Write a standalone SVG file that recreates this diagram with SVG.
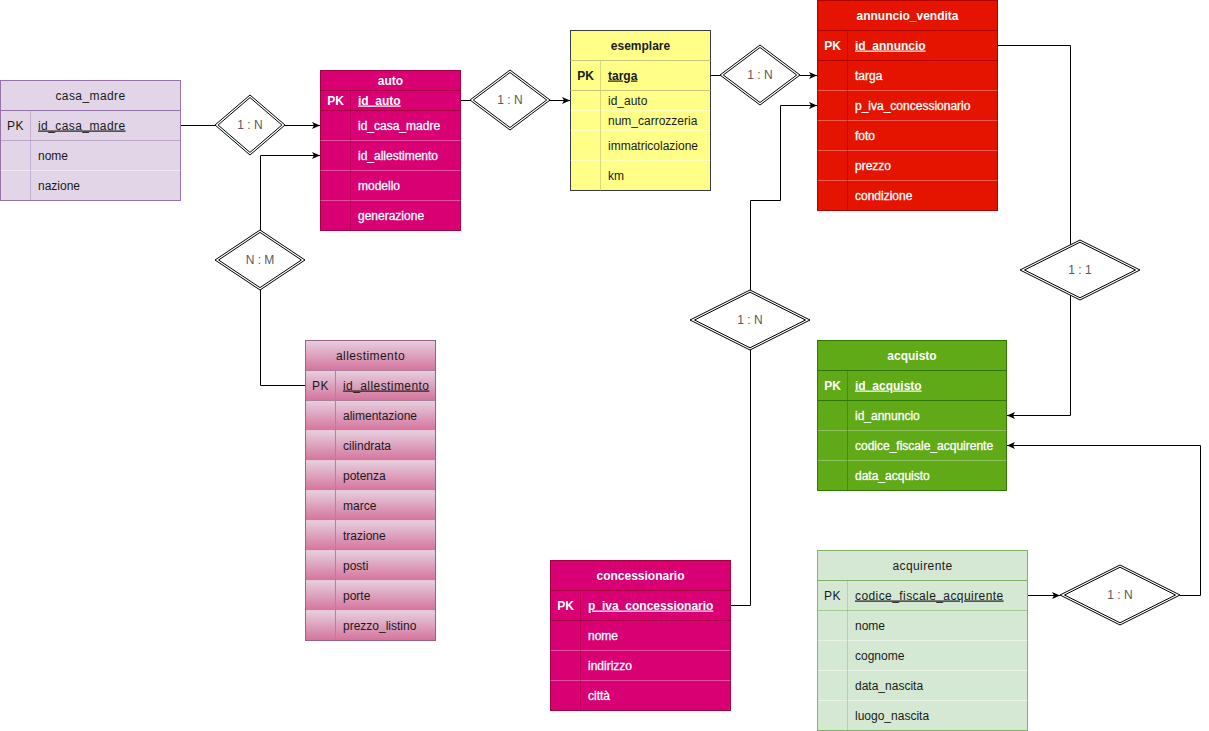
<svg xmlns="http://www.w3.org/2000/svg" width="1209" height="731" viewBox="0 0 1209 731">
<defs>
<style>
.t{font-family:"Liberation Sans",Arial,Helvetica,sans-serif;font-size:12px}
.dk{fill:#1a1a1a}
.wt{fill:#fff;font-weight:bold}
.wn{fill:#fff;stroke:#fff;stroke-width:.3px}
.b{font-weight:bold}
.ls{letter-spacing:.42px}
.u{text-decoration:underline}
.c{text-anchor:middle}
.conn{fill:none;stroke:#000;stroke-width:1}
.dia{fill:#fff;stroke:#000;stroke-width:1}
.dl{font-family:"Liberation Sans",Arial,Helvetica,sans-serif;font-size:12px;fill:#595959;text-anchor:middle}
.sepw{stroke:#fff;stroke-opacity:.45;stroke-width:1}
.sepw2{stroke:#fff;stroke-opacity:.3;stroke-width:1}
</style>
<marker id="arr" viewBox="0 0 8 7" refX="8" refY="3.5" markerWidth="8" markerHeight="7" markerUnits="userSpaceOnUse" orient="auto">
<path d="M0,0 L8,3.5 L0,7 L2,3.5 Z" fill="#000"/>
</marker>
<linearGradient id="gAll" x1="0" y1="0" x2="0" y2="1">
<stop offset="0" stop-color="#e6d0de"/>
<stop offset="1" stop-color="#d5739d"/>
</linearGradient>
</defs>
<rect width="1209" height="731" fill="#fff"/>

<g id="connectors">
<path class="conn" d="M180.5,125.5 H320" marker-end="url(#arr)"/>
<path class="conn" d="M260.5,230 V155.5 H320" marker-end="url(#arr)"/>
<path class="conn" d="M260.5,290 V385.5 H305.5"/>
<path class="conn" d="M460.5,100.5 H570" marker-end="url(#arr)"/>
<path class="conn" d="M710.5,75.5 H817" marker-end="url(#arr)"/>
<path class="conn" d="M730.5,605.5 H750.5 V200.5 H780.5 V105.5 H817" marker-end="url(#arr)"/>
<path class="conn" d="M997.5,45.5 H1070.5 V415.5 H1007" marker-end="url(#arr)"/>
<path class="conn" d="M1027.5,595.5 H1060" marker-end="url(#arr)"/>
<path class="conn" d="M1180,595.5 H1200.5 V445.5 H1007" marker-end="url(#arr)"/>
</g>

<g id="rel_casa_auto">
<polygon class="dia" points="215,125 250,95 285,125 250,155"/>
<polygon class="dia" points="218.1,125 250,97.6 281.9,125 250,152.4"/>
<text class="dl" x="250" y="129">1 : N</text>
</g>
<g id="rel_auto_allestimento">
<polygon class="dia" points="215,260 260,230 305,260 260,290"/>
<polygon class="dia" points="218.6,260 260,232.4 301.4,260 260,287.6"/>
<text class="dl" x="260" y="264">N : M</text>
</g>
<g id="rel_auto_esemplare">
<polygon class="dia" points="470,100 510,70 550,100 510,130"/>
<polygon class="dia" points="473.3,100 510,72.5 546.7,100 510,127.5"/>
<text class="dl" x="510" y="104">1 : N</text>
</g>
<g id="rel_esemplare_annuncio">
<polygon class="dia" points="720,75 760,45 800,75 760,105"/>
<polygon class="dia" points="723.3,75 760,47.5 796.7,75 760,102.5"/>
<text class="dl" x="760" y="79">1 : N</text>
</g>
<g id="rel_concessionario_annuncio">
<polygon class="dia" points="690,320 750,290 810,320 750,350"/>
<polygon class="dia" points="694.5,320 750,292.2 805.5,320 750,347.8"/>
<text class="dl" x="750" y="324">1 : N</text>
</g>
<g id="rel_annuncio_acquisto">
<polygon class="dia" points="1020,270 1080,240 1140,270 1080,300"/>
<polygon class="dia" points="1024.5,270 1080,242.2 1135.5,270 1080,297.8"/>
<text class="dl" x="1080" y="274">1 : 1</text>
</g>
<g id="rel_acquirente_acquisto">
<polygon class="dia" points="1060,595 1120,565 1180,595 1120,625"/>
<polygon class="dia" points="1064.5,595 1120,567.2 1175.5,595 1120,622.8"/>
<text class="dl" x="1120" y="599">1 : N</text>
</g>

<g id="casa_madre" class="t">
<rect x="0.5" y="80.5" width="180" height="120" fill="#e1d5e7" stroke="#9673a6"/>
<line x1="0.5" y1="110.5" x2="180.5" y2="110.5" stroke="#9673a6"/>
<line x1="0.5" y1="140.5" x2="180.5" y2="140.5" stroke="#9673a6" stroke-opacity=".5"/>
<line x1="0.5" y1="170.5" x2="180.5" y2="170.5" class="sepw"/>
<line x1="30.5" y1="110.5" x2="30.5" y2="200.5" stroke="#9673a6" stroke-opacity=".35"/>
<text class="dk c ls" x="90.5" y="99.5">casa_madre</text>
<text class="dk c ls" x="15.5" y="129.5">PK</text>
<text class="dk u ls" x="38" y="129.5">id_casa_madre</text>
<text class="dk" x="38" y="159.5">nome</text>
<text class="dk" x="38" y="189.5">nazione</text>
</g>

<g id="auto" class="t">
<rect x="320.5" y="70.5" width="140" height="160" fill="#d80073" stroke="#a50040"/>
<line x1="320.5" y1="90.5" x2="460.5" y2="90.5" stroke="#a50040"/>
<line x1="320.5" y1="110.5" x2="460.5" y2="110.5" stroke="#a50040"/>
<line x1="320.5" y1="140.5" x2="460.5" y2="140.5" class="sepw2"/>
<line x1="320.5" y1="170.5" x2="460.5" y2="170.5" class="sepw2"/>
<line x1="320.5" y1="200.5" x2="460.5" y2="200.5" class="sepw2"/>
<line x1="350.5" y1="90.5" x2="350.5" y2="230.5" stroke="#a50040" stroke-opacity=".5"/>
<text class="wt c" x="390.5" y="84.5">auto</text>
<text class="wt c" x="335.5" y="104.5">PK</text>
<text class="wt u" x="358" y="104.5">id_auto</text>
<text class="wn" x="358" y="129.5">id_casa_madre</text>
<text class="wn" x="358" y="159.5">id_allestimento</text>
<text class="wn" x="358" y="189.5">modello</text>
<text class="wn" x="358" y="219.5">generazione</text>
</g>

<g id="esemplare" class="t">
<rect x="570.5" y="30.5" width="140" height="160" fill="#ffff88" stroke="#36393d"/>
<line x1="570.5" y1="60.5" x2="710.5" y2="60.5" stroke="#c8c87a"/>
<line x1="570.5" y1="90.5" x2="710.5" y2="90.5" stroke="#c8c87a"/>
<line x1="570.5" y1="110.5" x2="710.5" y2="110.5" class="sepw"/>
<line x1="570.5" y1="130.5" x2="710.5" y2="130.5" class="sepw"/>
<line x1="570.5" y1="160.5" x2="710.5" y2="160.5" class="sepw"/>
<line x1="600.5" y1="60.5" x2="600.5" y2="190.5" stroke="#c8c87a" stroke-opacity=".7"/>
<text class="dk c b" x="640.5" y="49.5">esemplare</text>
<text class="dk c b" x="585.5" y="79.5">PK</text>
<text class="dk b u" x="608" y="79.5">targa</text>
<text class="dk" x="608" y="104.5">id_auto</text>
<text class="dk" x="608" y="124.5">num_carrozzeria</text>
<text class="dk" x="608" y="149.5">immatricolazione</text>
<text class="dk" x="608" y="179.5">km</text>
</g>

<g id="annuncio_vendita" class="t">
<rect x="817.5" y="0.5" width="180" height="210" fill="#e51400" stroke="#b20000"/>
<line x1="817.5" y1="30.5" x2="997.5" y2="30.5" stroke="#b20000"/>
<line x1="817.5" y1="60.5" x2="997.5" y2="60.5" stroke="#b20000"/>
<line x1="817.5" y1="90.5" x2="997.5" y2="90.5" class="sepw2"/>
<line x1="817.5" y1="120.5" x2="997.5" y2="120.5" class="sepw2"/>
<line x1="817.5" y1="150.5" x2="997.5" y2="150.5" class="sepw2"/>
<line x1="817.5" y1="180.5" x2="997.5" y2="180.5" class="sepw2"/>
<line x1="847.5" y1="30.5" x2="847.5" y2="210.5" stroke="#b20000" stroke-opacity=".5"/>
<text class="wt c" x="907.5" y="19.5">annuncio_vendita</text>
<text class="wt c" x="832.5" y="49.5">PK</text>
<text class="wt u" x="855" y="49.5">id_annuncio</text>
<text class="wn" x="855" y="79.5">targa</text>
<text class="wn" x="855" y="109.5">p_iva_concessionario</text>
<text class="wn" x="855" y="139.5">foto</text>
<text class="wn" x="855" y="169.5">prezzo</text>
<text class="wn" x="855" y="199.5">condizione</text>
</g>

<g id="allestimento" class="t">
<rect x="305.5" y="340.5" width="130" height="30" fill="url(#gAll)"/>
<rect x="305.5" y="370.5" width="130" height="30" fill="url(#gAll)"/>
<rect x="305.5" y="400.5" width="130" height="30" fill="url(#gAll)"/>
<rect x="305.5" y="430.5" width="130" height="30" fill="url(#gAll)"/>
<rect x="305.5" y="460.5" width="130" height="30" fill="url(#gAll)"/>
<rect x="305.5" y="490.5" width="130" height="30" fill="url(#gAll)"/>
<rect x="305.5" y="520.5" width="130" height="30" fill="url(#gAll)"/>
<rect x="305.5" y="550.5" width="130" height="30" fill="url(#gAll)"/>
<rect x="305.5" y="580.5" width="130" height="30" fill="url(#gAll)"/>
<rect x="305.5" y="610.5" width="130" height="30" fill="url(#gAll)"/>
<line x1="305.5" y1="370.5" x2="435.5" y2="370.5" stroke="#996185" stroke-opacity=".7"/>
<line x1="305.5" y1="400.5" x2="435.5" y2="400.5" stroke="#996185" stroke-opacity=".7"/>
<line x1="335.5" y1="370.5" x2="335.5" y2="640.5" stroke="#c07a9c"/>
<rect x="305.5" y="340.5" width="130" height="300" fill="none" stroke="#996185"/>
<text class="dk c ls" x="370.5" y="359.5">allestimento</text>
<text class="dk c ls" x="320.5" y="389.5">PK</text>
<text class="dk u ls" x="343" y="389.5">id_allestimento</text>
<text class="dk" x="343" y="419.5">alimentazione</text>
<text class="dk" x="343" y="449.5">cilindrata</text>
<text class="dk" x="343" y="479.5">potenza</text>
<text class="dk" x="343" y="509.5">marce</text>
<text class="dk" x="343" y="539.5">trazione</text>
<text class="dk" x="343" y="569.5">posti</text>
<text class="dk" x="343" y="599.5">porte</text>
<text class="dk" x="343" y="629.5">prezzo_listino</text>
</g>

<g id="concessionario" class="t">
<rect x="550.5" y="560.5" width="180" height="150" fill="#d80073" stroke="#a50040"/>
<line x1="550.5" y1="590.5" x2="730.5" y2="590.5" stroke="#a50040"/>
<line x1="550.5" y1="620.5" x2="730.5" y2="620.5" stroke="#a50040"/>
<line x1="550.5" y1="650.5" x2="730.5" y2="650.5" class="sepw2"/>
<line x1="550.5" y1="680.5" x2="730.5" y2="680.5" class="sepw2"/>
<line x1="580.5" y1="590.5" x2="580.5" y2="710.5" stroke="#a50040" stroke-opacity=".5"/>
<text class="wt c" x="640.5" y="579.5">concessionario</text>
<text class="wt c" x="565.5" y="609.5">PK</text>
<text class="wt u" x="588" y="609.5">p_iva_concessionario</text>
<text class="wn" x="588" y="639.5">nome</text>
<text class="wn" x="588" y="669.5">indirizzo</text>
<text class="wn" x="588" y="699.5">città</text>
</g>

<g id="acquisto" class="t">
<rect x="817.5" y="340.5" width="189" height="150" fill="#60a917" stroke="#2d7600"/>
<line x1="817.5" y1="370.5" x2="1006.5" y2="370.5" stroke="#2d7600"/>
<line x1="817.5" y1="400.5" x2="1006.5" y2="400.5" stroke="#2d7600"/>
<line x1="817.5" y1="430.5" x2="1006.5" y2="430.5" class="sepw2"/>
<line x1="817.5" y1="460.5" x2="1006.5" y2="460.5" class="sepw2"/>
<line x1="847.5" y1="370.5" x2="847.5" y2="490.5" stroke="#2d7600" stroke-opacity=".5"/>
<text class="wt c" x="912" y="359.5">acquisto</text>
<text class="wt c" x="832.5" y="389.5">PK</text>
<text class="wt u" x="855" y="389.5">id_acquisto</text>
<text class="wn" x="855" y="419.5">id_annuncio</text>
<text class="wn" x="855" y="449.5">codice_fiscale_acquirente</text>
<text class="wn" x="855" y="479.5">data_acquisto</text>
</g>

<g id="acquirente" class="t">
<rect x="817.5" y="550.5" width="210" height="180" fill="#d5e8d4" stroke="#82b366"/>
<line x1="817.5" y1="580.5" x2="1027.5" y2="580.5" stroke="#82b366"/>
<line x1="817.5" y1="610.5" x2="1027.5" y2="610.5" stroke="#82b366" stroke-opacity=".6"/>
<line x1="817.5" y1="640.5" x2="1027.5" y2="640.5" class="sepw"/>
<line x1="817.5" y1="670.5" x2="1027.5" y2="670.5" class="sepw"/>
<line x1="817.5" y1="700.5" x2="1027.5" y2="700.5" class="sepw"/>
<line x1="847.5" y1="580.5" x2="847.5" y2="730.5" stroke="#82b366" stroke-opacity=".4"/>
<text class="dk c ls" x="922.5" y="569.5">acquirente</text>
<text class="dk c ls" x="832.5" y="599.5">PK</text>
<text class="dk u ls" x="855" y="599.5">codice_fiscale_acquirente</text>
<text class="dk" x="855" y="629.5">nome</text>
<text class="dk" x="855" y="659.5">cognome</text>
<text class="dk" x="855" y="689.5">data_nascita</text>
<text class="dk" x="855" y="719.5">luogo_nascita</text>
</g>
</svg>
